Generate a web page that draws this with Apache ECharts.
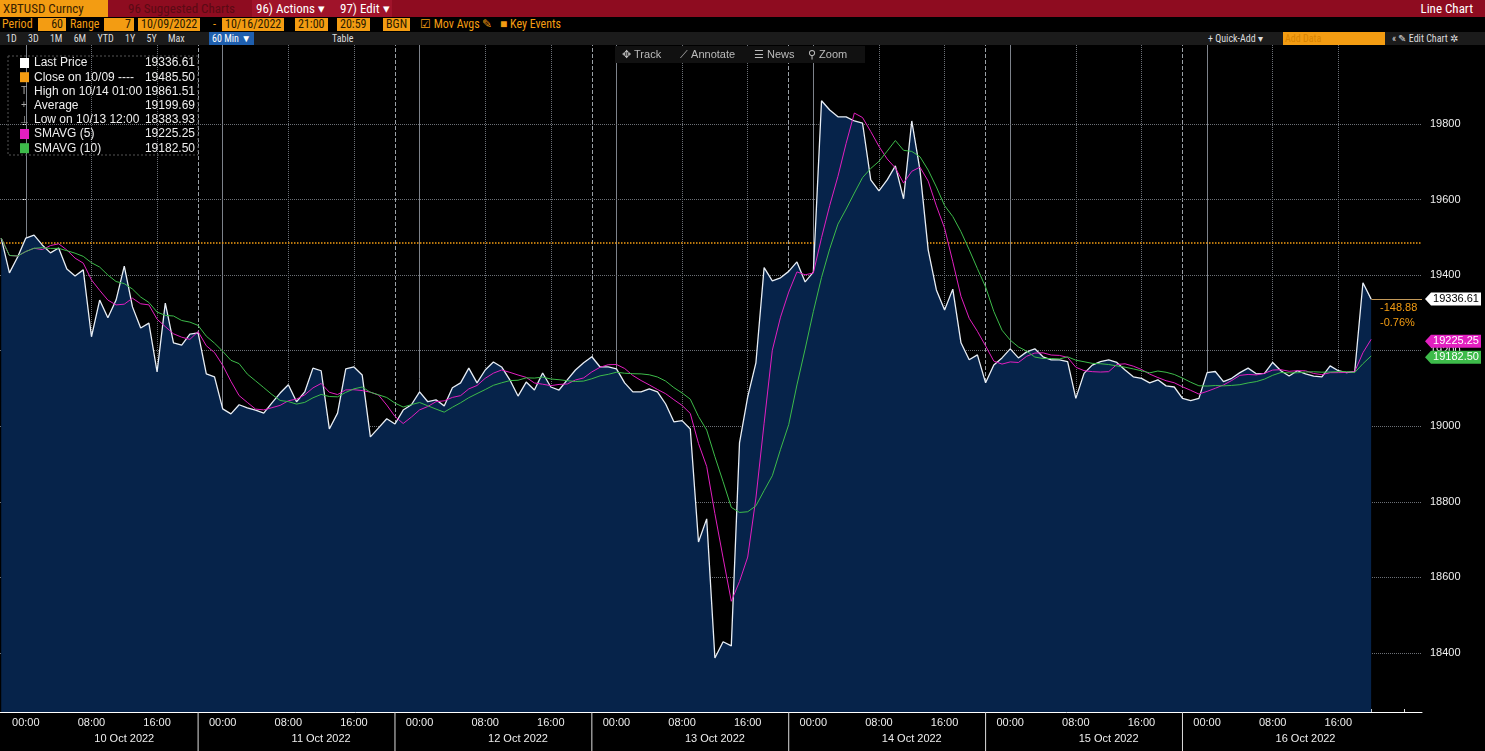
<!DOCTYPE html>
<html><head><meta charset="utf-8">
<script src="https://cdn.jsdelivr.net/npm/echarts@6/dist/echarts.min.js"></script>
<style>
body{margin:0;background:#000;width:1485px;height:751px;overflow:hidden;font-family:'Liberation Sans Narrow','Arial Narrow','Roboto Condensed','Liberation Sans',sans-serif;}
#c{position:absolute;left:0;top:0;width:1485px;height:751px;}
.hd{position:absolute;left:0;width:1485px;font-size:13px;white-space:nowrap;}
#r1{top:0;height:17px;background:#8e0c20;}
#r2{top:17px;height:15px;background:#000;font-size:12px;}
#r3{top:32px;height:13px;background:#1b1b1b;font-size:10px;color:#ddd;}
.a{position:absolute;top:0;line-height:17px;}
.b{position:absolute;top:1px;line-height:13px;height:13px;}
.o{background:#f39c12;color:#2a1a00;padding:0 3px;}
.ot{color:#f39c12;}
</style></head><body>
<div id="c"></div>
<div class="hd" id="r1">
 <div class="a" style="left:0;width:105px;background:#f39c12;color:#3a2200;padding-left:3px;">XBTUSD Curncy</div>
 <div class="a" style="left:128px;color:#5a0a14;">96 Suggested Charts</div>
 <div class="a" style="left:252px;width:80px;background:#a0132a;color:#fff;padding-left:4px;">96) Actions ▾</div>
 <div class="a" style="left:336px;width:52px;background:#a0132a;color:#fff;padding-left:4px;">97) Edit ▾</div>
 <div class="a" style="right:12px;color:#fff;">Line Chart</div>
</div>
<div class="hd" id="r2">
 <div class="b ot" style="left:2px;">Period</div><div class="b o" style="left:38px;width:22px;text-align:right;">60</div>
 <div class="b ot" style="left:70px;">Range</div><div class="b o" style="left:104px;width:24px;text-align:right;">7</div>
 <div class="b o" style="left:138px;">10/09/2022</div><div class="b ot" style="left:213px;">-</div>
 <div class="b o" style="left:222px;">10/16/2022</div>
 <div class="b o" style="left:295px;">21:00</div><div class="b o" style="left:337px;">20:59</div>
 <div class="b o" style="left:383px;">BGN</div>
 <div class="b ot" style="left:420px;">☑ Mov Avgs ✎</div>
 <div class="b ot" style="left:500px;">■ Key Events</div>
</div>
<div class="hd" id="r3">
 <div class="b" style="left:6px;top:0;word-spacing:9px;">1D 3D 1M 6M YTD 1Y 5Y Max</div>
 <div class="b" style="left:209px;top:0;background:#1f5fae;color:#fff;padding:0 3px;">60 Min ▼</div>
 <div class="b" style="left:332px;top:0;">Table</div>
 <div class="b" style="left:1208px;top:0;">+ Quick-Add ▾</div>
 <div class="b" style="left:1283px;top:0;width:100px;background:#f39c12;color:#d88300;padding-left:2px;">Add Data</div>
 <div class="b" style="left:1392px;top:0;">«  ✎ Edit Chart ✲</div>
</div>
<script>
const startHour = -3; // 9 Oct 2022 21:00
const price = [19498,19406,19448,
19498,19506,19480,19459,19472,19416,19398,19414,19237,19334,19287,19334,19424,19316,19260,19273,19144,19326,19221,19215,19244,19247,19139,19131,
19046,19033,19057,19049,19043,19035,19062,19088,19110,19065,19091,19154,19147,18993,19035,19152,19157,19136,18972,18996,19020,19006,19043,19057,
19091,19065,19070,19054,19102,19115,19154,19115,19149,19170,19157,19123,19080,19117,19096,19141,19104,19096,19123,19149,19168,19184,19157,19157,
19152,19115,19091,19091,19099,19091,19059,19012,19015,18993,18694,18755,18387,18430,18419,18956,19078,19168,19420,19385,19393,19410,19435,19382,
19408,19861.51,19837,19819,19819,19808,19802,19652,19623,19652,19689,19602,19808,19678,19467,19361,19308,19363,19221,19176,19189,19115,19162,19181,
19205,19181,19197,19205,19184,19176,19176,19171,19074,19140,19162,19171,19176,19169,19149,19131,19127,19115,19123,19107,19104,19074,19068,19074,
19142,19145,19118,19127,19142,19154,19139,19140,19169,19147,19133,19147,19139,19133,19131,19160,19147,19142,19145,19380,19336.61];
const dayLabels = ['10 Oct 2022','11 Oct 2022','12 Oct 2022','13 Oct 2022','14 Oct 2022','15 Oct 2022','16 Oct 2022'];
const hourLabels = ['00:00','08:00','16:00'];
const yTicks = [18400,18600,18800,19000,19200,19400,19600,19800];
const closePrev = 19485.50;
const changeLabels = ['-148.88','-0.76%'];
const legendRows = [['Last Price','19336.61','#ffffff'],['Close on 10/09 ----','19485.50','#f39c12'],['High on 10/14 01:00','19861.51',null],['Average','19199.69',null],['Low on 10/13 12:00','18383.93',null],['SMAVG (5)','19225.25','#e21fc0'],['SMAVG (10)','19182.50','#3dbb4a']];
const tags = [[19336.61,'19336.61','#ffffff','#000'],[19225.25,'19225.25','#e21fc0','#fff'],[19182.50,'19182.50','#3dbb4a','#fff']];

function sma(arr,n){return arr.map((v,i)=>{const s=arr.slice(Math.max(0,i-n+1),i+1);return s.reduce((a,b)=>a+b,0)/s.length;});}
const toXY = a => a.map((v,i)=>[startHour+i,v]);
const priceXY = toXY(price), sma5 = toXY(sma(price,5)), sma10 = toXY(sma(price,10));
const lastH = startHour+price.length-1;

const vSolid=[],vDot=[],vDash=[],hourVals=[],dayVals=[],tickVals=[];
for(let d=0;d<7;d++){vSolid.push(d*24);vDot.push(d*24+8,d*24+16);if(d<6)vDash.push(d*24+21);hourVals.push(d*24,d*24+8,d*24+16);dayVals.push(d*24+12);}
for(let h=0;h<=168;h+=4)tickVals.push(h);
const gridTop=45,gridBottom=39,gridRight=63;
const chart = echarts.init(document.getElementById('c'));
const font="'Liberation Sans Narrow','Arial Narrow','Liberation Sans',sans-serif";
const ml=(vals,key,type,color)=>vals.map(v=>({[key]:v,lineStyle:{type:type,color:color,width:1}}));
chart.setOption({
 backgroundColor:'#000',animation:false,
 grid:{left:0,right:gridRight,top:gridTop,bottom:gridBottom},
 xAxis:[{type:'value',min:-3.15,max:170.2,axisLine:{show:true,lineStyle:{color:'#fff',width:1}},splitLine:{show:false},
   axisTick:{show:true,customValues:tickVals,length:3,inside:true,lineStyle:{color:'#ddd'}},
   axisLabel:{customValues:hourVals,formatter:v=>hourLabels[(v%24)/8],color:'#eee',fontSize:11,fontFamily:font,margin:5}},
  {type:'value',min:-3.15,max:170.2,position:'bottom',axisLine:{show:false},axisTick:{show:false},splitLine:{show:false},
   axisLabel:{customValues:dayVals,formatter:v=>dayLabels[Math.floor(v/24)],color:'#eee',fontSize:11,fontFamily:font,margin:21}}],
 yAxis:{type:'value',min:18244,max:20009,position:'right',axisLine:{show:true,lineStyle:{color:'#ccc'}},splitLine:{show:false},
   axisTick:{show:true,customValues:yTicks,length:4,inside:true,lineStyle:{color:'#fff'}},
   axisLabel:{customValues:yTicks,formatter:v=>String(v),color:'#eee',fontSize:11,fontFamily:font,margin:8}},
 series:[
  {type:'line',data:priceXY,symbol:'none',z:3,lineStyle:{color:'#e8eef5',width:1.3},areaStyle:{color:'#06234a',opacity:1,origin:'start'},
   markLine:{silent:true,symbol:'none',label:{show:false},z:1,
    data:[...ml(vSolid,'xAxis','solid','#7d828a'),...ml(vDot,'xAxis','dotted','#6c7076'),...ml(vDash,'xAxis','dashed','#9aa0a6'),
      ...ml(yTicks,'yAxis','dotted','#6c7076'),
      {yAxis:closePrev,lineStyle:{type:'dotted',color:'#f39c12',width:1.5}},
      [{coord:[lastH,price[price.length-1]],lineStyle:{type:'solid',color:'#c49a5a',width:1}},{coord:[170.2,price[price.length-1]]}]]}},
  {type:'line',data:sma5,symbol:'none',z:4,lineStyle:{color:'#e21fc0',width:1}},
  {type:'line',data:sma10,symbol:'none',z:4,lineStyle:{color:'#3dbb4a',width:1}}
 ]
});
const g=[];
legendRows.forEach((r,i)=>{const y=63+i*14.2;
 if(r[2])g.push({type:'rect',shape:{x:20,y:y-5,width:9,height:10},style:{fill:r[2]},z:20});
 else g.push({type:'text',style:{x:24,y:y,text:['T','+','⊥'][i-2],fill:'#aaa',fontSize:10,verticalAlign:'middle',align:'center'},z:20});
 g.push({type:'text',style:{x:34,y:y,text:r[0],fill:'#eee',fontSize:12,fontFamily:font,verticalAlign:'middle'},z:20});
 g.push({type:'text',style:{x:195,y:y,text:r[1],fill:'#eee',fontSize:12,fontFamily:font,verticalAlign:'middle',align:'right'},z:20});
});
g.push({type:'rect',shape:{x:8,y:56,width:190,height:99},style:{fill:'rgba(0,0,0,0)',stroke:'#555',lineDash:[2,2]},z:19});
g.push({type:'rect',shape:{x:615,y:46,width:250,height:17},style:{fill:'#111'},z:20});
[['✥ Track',622],['⟋ Annotate',680],['☰ News',754],['⚲ Zoom',808]].forEach(t=>g.push({type:'text',style:{x:t[1],y:55,text:t[0],fill:'#bbb',fontSize:11,fontFamily:font,verticalAlign:'middle'},z:21}));
for(let d=0;d<6;d++){const x=chart.convertToPixel({xAxisIndex:0},d*24+21);g.push({type:'line',shape:{x1:x,y1:712,x2:x,y2:751},style:{stroke:'#ddd',lineWidth:1},z:20});}
tags.forEach(t=>{const y=chart.convertToPixel({yAxisIndex:0},t[0]);
 g.push({type:'polygon',shape:{points:[[1425,y],[1431,y-6.5],[1481,y-6.5],[1481,y+6.5],[1431,y+6.5]]},style:{fill:t[2]},z:22});
 g.push({type:'text',style:{x:1456,y:y,text:t[1],fill:t[3],fontSize:11,fontFamily:font,align:'center',verticalAlign:'middle'},z:23});});
const yl=chart.convertToPixel({yAxisIndex:0},price[price.length-1]);
g.push({type:'text',style:{x:1380,y:yl+9,text:changeLabels[0],fill:'#f39c12',fontSize:11,fontFamily:font,verticalAlign:'middle'},z:22});
g.push({type:'text',style:{x:1380,y:yl+24,text:changeLabels[1],fill:'#f39c12',fontSize:11,fontFamily:font,verticalAlign:'middle'},z:22});
chart.setOption({graphic:g});
</script></body></html>
